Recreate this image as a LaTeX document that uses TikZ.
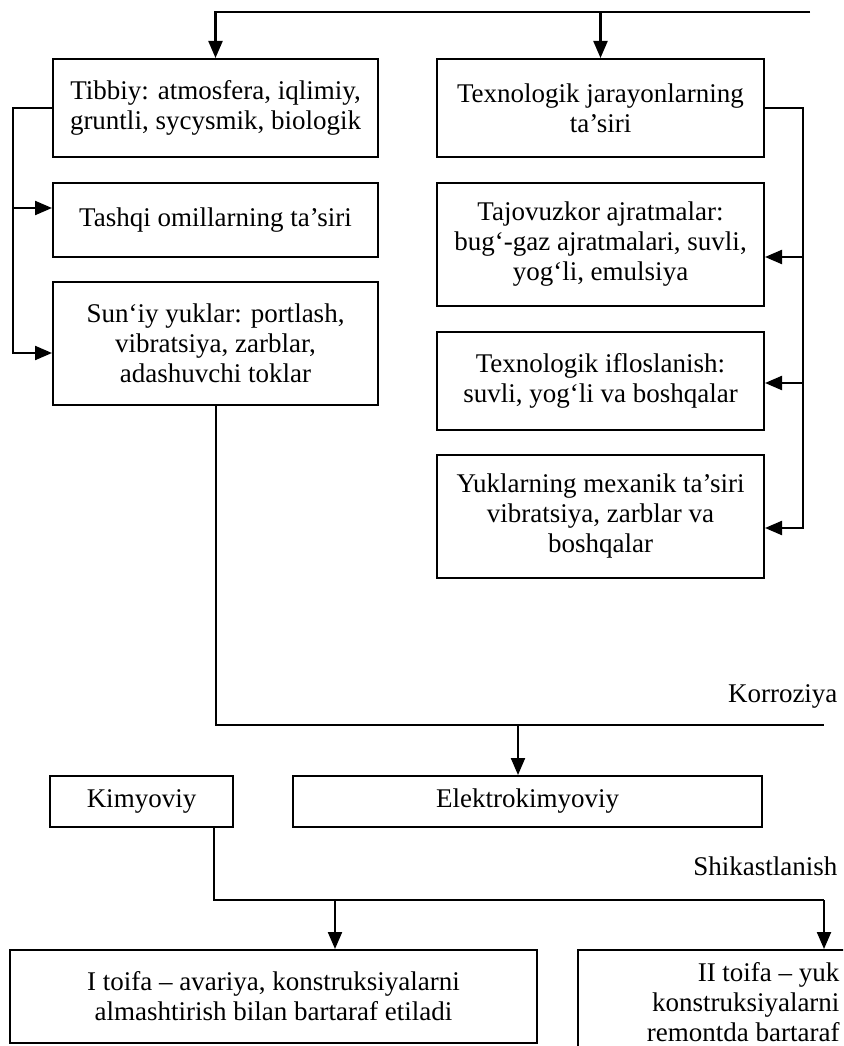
\documentclass[tikz,border=0pt]{standalone}
\usepackage{fontspec}
\setmainfont{Liberation Serif}
\usetikzlibrary{arrows.meta}
\tikzset{
  blok/.style={draw, line width=2pt, align=center, inner sep=0pt,
    font=\fontsize{27}{30}\selectfont},
  yozuv/.style={font=\fontsize{27}{30}\selectfont},
  liniya/.style={line width=2pt},
  strelka/.style={line width=2.2pt, -{Triangle[length=17pt,width=14pt]}},
}
\begin{document}
\begin{tikzpicture}[x=1pt, y=-1pt]
  \clip (0,0) rectangle (843,1046);
  % chap ustun
  \node[blok, minimum width=325pt, minimum height=98pt] (tib) at (215.5,108) {Tibbiy: atmosfera, iqlimiy,\\ gruntli, sycysmik, biologik};
  \node[blok, minimum width=325pt, minimum height=74pt] (tash) at (215.5,220) {Tashqi omillarning ta’siri};
  \node[blok, minimum width=325pt, minimum height=123pt] (sun) at (215.5,343.5) {Sun‘iy yuklar: portlash,\\ vibratsiya, zarblar,\\ adashuvchi toklar};
  % o'ng ustun
  \node[blok, minimum width=327pt, minimum height=98pt] (tex) at (600.5,108) {Texnologik jarayonlarning\\ ta’siri};
  \node[blok, minimum width=327pt, minimum height=123pt] (taj) at (600.5,244.5) {Tajovuzkor ajratmalar:\\ bug‘-gaz ajratmalari, suvli,\\ yog‘li, emulsiya};
  \node[blok, minimum width=327pt, minimum height=98pt] (ifl) at (600.5,381) {Texnologik ifloslanish:\\ suvli, yog‘li va boshqalar};
  \node[blok, minimum width=327pt, minimum height=123pt] (yuk) at (600.5,516.5) {Yuklarning mexanik ta’siri\\ vibratsiya, zarblar va\\ boshqalar};
  % korroziya
  \node[blok, minimum width=183pt, minimum height=51pt] (kim) at (141.5,801.5) {Kimyoviy};
  \node[blok, minimum width=469pt, minimum height=51pt] (ele) at (527.5,801.5) {Elektrokimyoviy};
  \node[yozuv, anchor=base east] (kor) at (841,702) {Korroziya};
  \node[yozuv, anchor=base east] (shik) at (841,875) {Shikastlanish};
  % shikastlanish
  \node[blok, minimum width=527pt, minimum height=93pt] (t1) at (273.5,996.5) {I toifa – avariya, konstruksiyalarni\\ almashtirish bilan bartaraf etiladi};
  \node[blok, minimum width=422pt, minimum height=140pt] (t2) at (789,1020) {};
  \node[yozuv, align=right, anchor=east] (t2y) at (843,1002) {II toifa – yuk\\ konstruksiyalarni\\ remontda bartaraf};

  \coordinate (topR) at (810,12);
  \draw[strelka] (topR) -| (tib.north);
  \draw[strelka] (tex.north |- topR) -- (tex.north);

  \coordinate (lb) at (13,353);
  \coordinate (lt) at (13,208);
  \draw[strelka] (tib.west) -| (lb) -- (sun.west |- lb);
  \draw[strelka] (lt) -- (tash.west |- lt);

  \coordinate (rb) at (803,528);
  \coordinate (r1) at (803,257);
  \coordinate (r2) at (803,383);
  \draw[strelka] (tex.east) -| (rb) -- (yuk.east |- rb);
  \draw[strelka] (r1) -- (taj.east |- r1);
  \draw[strelka] (r2) -- (ifl.east |- r2);

  \coordinate (korR) at (824,725);
  \coordinate (korA) at (518,725);
  \draw[liniya] (sun.south) |- (korR);
  \draw[strelka] (korA) -- (ele.north -| korA);

  \coordinate (shR) at (824,900);
  \coordinate (shA) at (335,900);
  \draw[liniya] ([xshift=-20pt]kim.south east) |- (shR);
  \draw[strelka] (shR) -- (t2.north -| shR);
  \draw[strelka] (shA) -- (t1.north -| shA);
\end{tikzpicture}
\end{document}
